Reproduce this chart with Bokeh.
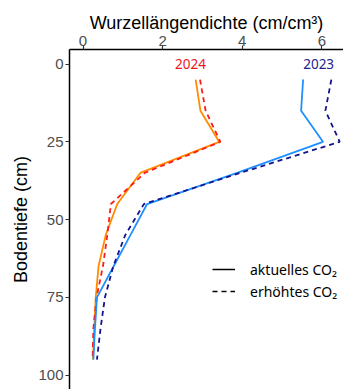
from bokeh.plotting import figure
from bokeh.models import Range1d, FixedTicker, Legend, LegendItem, ColumnDataSource
from bokeh.embed import file_html
from bokeh.resources import INLINE
from bokeh.core.properties import value

depth = [5, 15, 25, 35, 45, 55, 65, 75, 85, 95]
aktuell_2024 = [2.83, 2.95, 3.42, 1.44, 0.86, 0.57, 0.39, 0.32, 0.28, 0.25]
erhoeht_2024 = [2.94, 3.08, 3.45, 1.55, 0.70, 0.61, 0.50, 0.34, 0.26, 0.24]
aktuell_2023 = [5.53, 5.48, 6.03, 3.87, 1.61, 1.19, 0.77, 0.35, 0.30, 0.26]
erhoeht_2023 = [6.24, 6.09, 6.45, 3.95, 1.53, 1.06, 0.76, 0.55, 0.44, 0.35]

year_labels = ["2024", "2023"]
year_x = [2.70, 5.92]
year_y = [0, 0]
year_colors = ["#F0141E", "#22228E"]

x_ticks = [0, 2, 4, 6]
y_ticks = [0, 25, 50, 75, 100]
legend_labels = ["aktuelles CO\u2082", "erh\u00f6htes CO\u2082"]
nan = float("nan")

p = figure(width=343, height=389, output_backend="svg", toolbar_location=None,
           x_axis_location="above",
           x_range=Range1d(-0.34, 6.545), y_range=Range1d(104.6, -4.66),
           min_border_left=69, min_border_top=49, min_border_right=0, min_border_bottom=0)
p.outline_line_color = None
p.xgrid.visible = False
p.ygrid.visible = False

p.line(aktuell_2024, depth, line_color="#FF8C00", line_width=1.8)
p.line(erhoeht_2024, depth, line_color="#FF1A1A", line_width=1.8, line_dash="5 4")
p.line(aktuell_2023, depth, line_color="#1E90FF", line_width=1.8)
p.line(erhoeht_2023, depth, line_color="#14148C", line_width=1.8, line_dash="5 4")

src = ColumnDataSource(dict(x=year_x, y=year_y, t=year_labels, c=year_colors))
p.text(x="x", y="y", text="t", text_color="c", source=src, text_align="center",
       text_baseline="middle", text_font=value("Noto Sans"), text_font_size="13.5px")

r1 = p.line([nan, nan], [nan, nan], line_color="black", line_width=1.5)
r2 = p.line([nan, nan], [nan, nan], line_color="black", line_width=1.5, line_dash="5 4")
legend = Legend(items=[LegendItem(label=legend_labels[0], renderers=[r1]),
                       LegendItem(label=legend_labels[1], renderers=[r2])],
                location=(143, 87), orientation="vertical")
legend.glyph_width = 23
legend.glyph_height = 22
legend.label_height = 22
legend.label_standoff = 15
legend.spacing = 0
legend.padding = 0
legend.margin = 0
legend.border_line_color = None
legend.background_fill_alpha = 0
legend.label_text_font = "Noto Sans"
legend.label_text_font_size = "14px"
legend.label_text_color = "black"
p.add_layout(legend, "center")

for ax in (p.xaxis[0], p.yaxis[0]):
    ax.axis_line_color = "black"
    ax.axis_line_width = 1.5
    ax.major_tick_line_color = "#333333"
    ax.major_tick_line_width = 1.2
    ax.major_tick_out = 4
    ax.major_tick_in = 0
    ax.minor_tick_line_color = None
    ax.major_label_text_color = "#4D4D4D"
    ax.major_label_text_font = "Liberation Sans"
    ax.major_label_text_font_size = "15px"
    ax.axis_label_text_font = "Liberation Sans"
    ax.axis_label_text_font_size = "18px"
    ax.axis_label_text_font_style = "normal"
    ax.axis_label_text_color = "black"

p.xaxis[0].major_label_standoff = 0
p.xaxis[0].axis_label_standoff = 0
p.yaxis[0].major_label_standoff = 2
p.yaxis[0].axis_label_standoff = 4

p.xaxis[0].ticker = FixedTicker(ticks=x_ticks)
p.yaxis[0].ticker = FixedTicker(ticks=y_ticks)
p.xaxis[0].axis_label = "Wurzell\u00e4ngendichte (cm/cm\u00b3)"
p.yaxis[0].axis_label = "Bodentiefe (cm)"

open("out.html", "w").write(file_html(p, INLINE))
